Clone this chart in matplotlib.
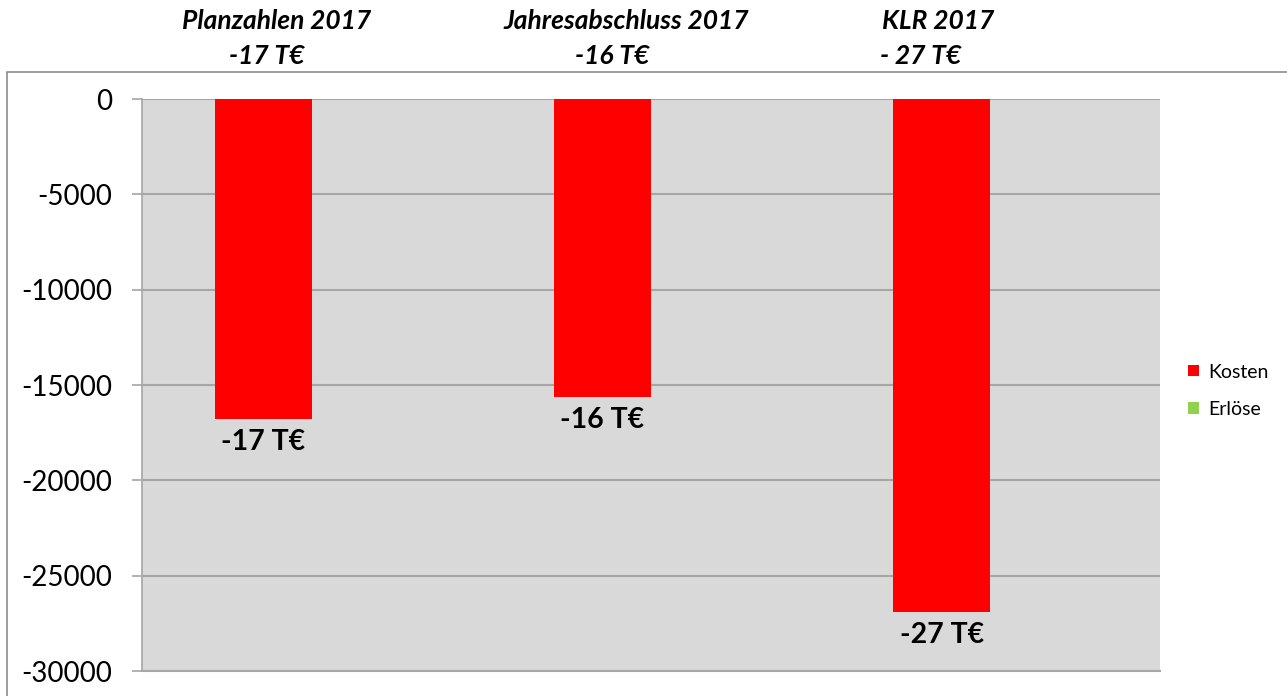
import matplotlib
matplotlib.use("Agg")
import matplotlib.pyplot as plt
from matplotlib.patches import Rectangle
import numpy as np

plt.rcParams["font.family"] = ["Lato", "DejaVu Sans"]

CATEGORIES = ["Planzahlen 2017", "Jahresabschluss 2017", "KLR 2017"]
HEADER_VALUES = ["-17 T€", "-16 T€", "- 27 T€"]
KOSTEN = [-16780, -15630, -26900]
ERLOESE = [0, 0, 0]
Y_TICKS = [0, -5000, -10000, -15000, -20000, -25000, -30000]

RED = "#ff0000"
GREEN = "#92d050"
GRID = "#a6a6a6"
PLOT_BG = "#d9d9d9"

W, H = 1287, 696
fig = plt.figure(figsize=(W / 100, H / 100), dpi=100)

# chart-area border (Excel style), open to the right and bottom
fig.patches.append(Rectangle((7 / W, -0.1), 1.2, 1 - 72 / H + 0.1,
                             transform=fig.transFigure, fill=False,
                             edgecolor="#8c8c8c", linewidth=1.2))

ax = fig.add_axes([142 / W, 1 - 671 / H, (1160 - 142) / W, (671 - 99) / H])
ax.set_facecolor(PLOT_BG)

x = np.arange(len(CATEGORIES))
width = 0.286
ax.bar(x - width / 2, KOSTEN, width, color=RED, label="Kosten", zorder=3)
ax.bar(x + width / 2, ERLOESE, width, color=GREEN, label="Erlöse", zorder=3)

for xi, v in zip(x - width / 2, KOSTEN):
    ax.annotate(f"{round(v / 1000):.0f} T€", (xi, v), xytext=(0, -7),
                textcoords="offset points", ha="center", va="top",
                fontsize=20.5, fontweight="bold", zorder=4)

ax.set_xlim(-0.5, len(CATEGORIES) - 0.5)
ax.set_ylim(-30000, 0)
ax.set_yticks(Y_TICKS)
ax.set_yticklabels([str(t) for t in Y_TICKS], fontsize=20)
ax.set_xticks([])
ax.yaxis.grid(True, color=GRID, linewidth=1.5, zorder=1)
ax.set_axisbelow(True)
ax.tick_params(axis="y", length=7, width=1.2, color=GRID, pad=14.5)
for side in ("top", "right"):
    ax.spines[side].set_visible(False)
ax.spines["left"].set_color(GRID)
ax.spines["left"].set_linewidth(1.2)
ax.spines["bottom"].set_color(GRID)
ax.spines["bottom"].set_linewidth(1.5)

# headers above the chart area
title_x = [277, 626, 938]
value_x = [267, 612, 921]
for name, val, tx, vx in zip(CATEGORIES, HEADER_VALUES, title_x, value_x):
    fig.text(tx / W, 1 - 21 / H, name, ha="center", va="center",
             fontsize=19, fontweight="bold", fontstyle="italic")
    fig.text(vx / W, 1 - 56 / H, val, ha="center", va="center",
             fontsize=19, fontweight="bold", fontstyle="italic")

ax.legend(loc="center left", bbox_to_anchor=(1.016, 0.49), frameon=False,
          fontsize=14, handlelength=0.55, handleheight=0.55, handletextpad=0.5,
          labelspacing=1.05, borderaxespad=0.2)

fig.savefig("out.png", dpi=100)
